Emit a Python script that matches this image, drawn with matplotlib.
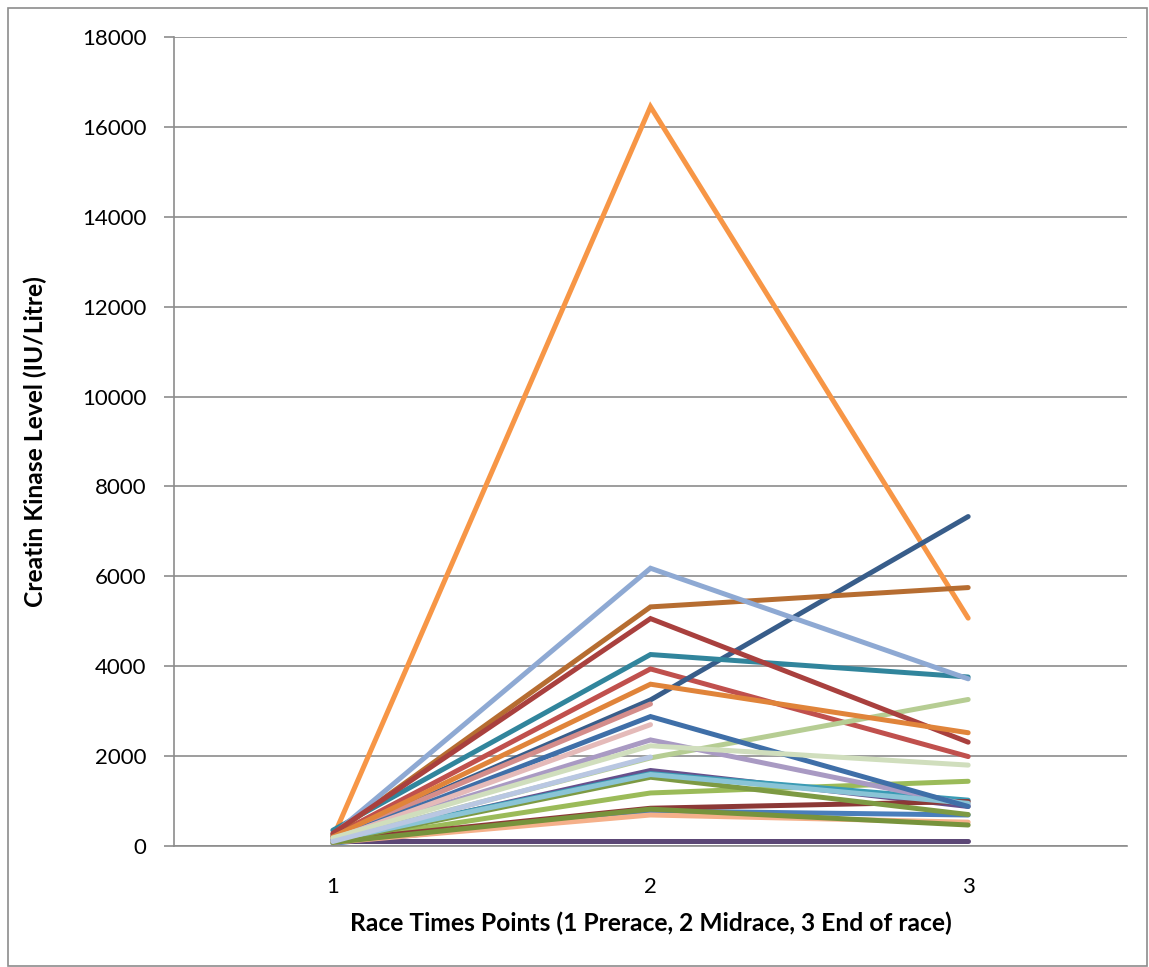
import numpy as np
import matplotlib
matplotlib.use("Agg")
import matplotlib.pyplot as plt
from matplotlib.patches import Rectangle

plt.rcParams['font.family'] = ['Lato', 'DejaVu Sans']

# Race time points
time_points = [1, 2, 3]

# Creatine kinase (IU/L) per runner at prerace, midrace, end of race (nan = not measured)
ck_runner_01 = [60, 780, 690]
ck_runner_02 = [220, 3940, 1990]
ck_runner_03 = [90, 1180, 1440]
ck_runner_04 = [100, 1680, 880]
ck_runner_05 = [150, 1610, 1020]
ck_runner_06 = [180, 16450, 5070]
ck_runner_07 = [200, 3250, 7330]
ck_runner_08 = [120, 840, 990]
ck_runner_09 = [100, 1530, 700]
ck_runner_10 = [110, 110, 110]
ck_runner_11 = [350, 4260, 3760]
ck_runner_12 = [250, 5320, 5750]
ck_runner_13 = [250, 6180, 3720]
ck_runner_14 = [200, 3160, np.nan]
ck_runner_15 = [120, 1960, 3260]
ck_runner_16 = [170, 2360, 920]
ck_runner_17 = [130, 1590, 950]
ck_runner_18 = [80, 690, 530]
ck_runner_19 = [280, 5060, 2310]
ck_runner_20 = [150, 2880, 880]
ck_runner_21 = [80, 820, 467]
ck_runner_22 = [200, 3600, 2520]
ck_runner_23 = [150, 2700, np.nan]
ck_runner_24 = [180, 2230, 1800]
ck_runner_25 = [100, 1980, np.nan]

series = [
    (ck_runner_01, '#4A7EBB'),
    (ck_runner_02, '#C0504D'),
    (ck_runner_03, '#9BBB59'),
    (ck_runner_04, '#67508C'),
    (ck_runner_05, '#3A9BB4'),
    (ck_runner_06, '#F79646'),
    (ck_runner_07, '#385D8A'),
    (ck_runner_08, '#8C3836'),
    (ck_runner_09, '#7D9A43'),
    (ck_runner_10, '#5C4776'),
    (ck_runner_11, '#31859C'),
    (ck_runner_12, '#B66D31'),
    (ck_runner_13, '#8EA9D3'),
    (ck_runner_14, '#D48D8B'),
    (ck_runner_15, '#B6CD93'),
    (ck_runner_16, '#A99AC3'),
    (ck_runner_17, '#8AC4D6'),
    (ck_runner_18, '#F5B08A'),
    (ck_runner_19, '#A9403E'),
    (ck_runner_20, '#3F6FA8'),
    (ck_runner_21, '#77933C'),
    (ck_runner_22, '#E0843A'),
    (ck_runner_23, '#E4BAB9'),
    (ck_runner_24, '#D0DEBD'),
    (ck_runner_25, '#B9C7E2'),
]

fig = plt.figure(figsize=(11.49, 9.67), dpi=100)
ax = fig.add_axes([174 / 1149, 121 / 967, 953 / 1149, 809 / 967])

for values, color in series:
    ax.plot(time_points, values, color=color, lw=3.6,
            solid_capstyle='round', solid_joinstyle='miter')

ax.set_xlim(0.5, 3.5)
ax.set_ylim(0, 18000)
ax.set_xticks(time_points)
ax.set_yticks(np.arange(0, 18001, 2000))
ax.grid(axis='y', color='#8C8C8C', lw=1.2)
ax.set_axisbelow(True)

for side in ['top', 'right']:
    ax.spines[side].set_visible(False)
for side in ['left', 'bottom']:
    ax.spines[side].set_color('#8C8C8C')
    ax.spines[side].set_linewidth(1.2)

ax.tick_params(axis='y', length=7, width=1.2, color='#8C8C8C', pad=13,
               labelsize=16)
ax.tick_params(axis='x', length=0, pad=22, labelsize=16)

ax.set_xlabel('Race Times Points (1 Prerace, 2 Midrace, 3 End of race)',
              fontsize=17.7, fontweight='bold', labelpad=11)
ax.set_ylabel('Creatin Kinase Level (IU/Litre)', fontsize=17.7,
              fontweight='bold', labelpad=25)

fig.patches.append(Rectangle((8 / 1149, 1 / 967), 1139 / 1149, 958 / 967,
                             transform=fig.transFigure, fill=False,
                             edgecolor='#8C8C8C', lw=1.2))

fig.savefig('out.png', dpi=100)
